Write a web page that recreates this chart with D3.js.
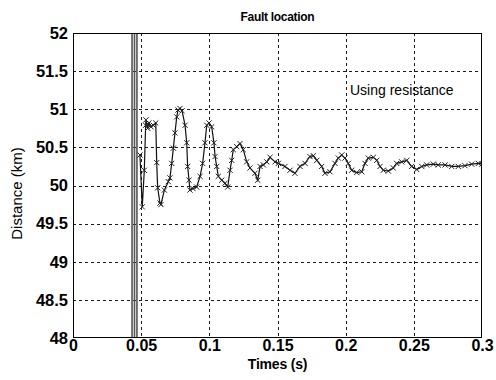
<!DOCTYPE html>
<html>
<head>
<meta charset="utf-8">
<script src="https://cdn.jsdelivr.net/npm/d3@7"></script>
<style>
  html, body { margin: 0; padding: 0; background: #fff; }
  svg { display: block; }
</style>
</head>
<body>
<svg id="chart" width="496" height="380"></svg>
<script>
// ---- data ----
const xTicks = [0, 0.05, 0.1, 0.15, 0.2, 0.25, 0.3];
const xTickLabels = ["0", "0.05", "0.1", "0.15", "0.2", "0.25", "0.3"];
const yTicks = [48, 48.5, 49, 49.5, 50, 50.5, 51, 51.5, 52];
const yTickLabels = ["48", "48.5", "49", "49.5", "50", "50.5", "51", "51.5", "52"];

// transient (off-scale) vertical traces before the estimate settles
const transientTimes = [0.0433, 0.0451, 0.0469];

// estimated fault distance, time (s)
const times = [
  0.0491, 0.0508, 0.0523, 0.0533, 0.0535, 0.0548, 0.0557, 0.0572, 0.0589, 0.0607,
  0.0614, 0.0621, 0.0638, 0.0645, 0.0670, 0.0699, 0.0711, 0.0724, 0.0736, 0.0748,
  0.0761, 0.0770, 0.0785, 0.0800, 0.0822, 0.0834, 0.0841, 0.0851, 0.0858, 0.0880,
  0.0907, 0.0932, 0.0951, 0.0968, 0.0981, 0.0998, 0.1017, 0.1034, 0.1042, 0.1054,
  0.1066, 0.1091, 0.1115, 0.1135, 0.1152, 0.1164, 0.1176, 0.1201, 0.1225, 0.1249,
  0.1274, 0.1298, 0.1335, 0.1355, 0.1372, 0.1396, 0.1421, 0.1445, 0.1482, 0.1506,
  0.1555, 0.1592, 0.1628, 0.1665, 0.1702, 0.1738, 0.1763, 0.1788, 0.1824, 0.1848,
  0.1885, 0.1922, 0.1946, 0.1971, 0.1995, 0.2019, 0.2044, 0.2081, 0.2118, 0.2142,
  0.2166, 0.2203, 0.2228, 0.2252, 0.2276, 0.2313, 0.2349, 0.2374, 0.2411, 0.2448,
  0.2484, 0.2521, 0.2558, 0.2594, 0.2643, 0.2679, 0.2729, 0.2778, 0.2826, 0.2875,
  0.2924, 0.2973, 0.3000
];
// estimated fault distance, km
const distances = [
  50.40, 49.72, 50.20, 50.79, 50.86, 50.75, 50.82, 50.77, 50.79, 50.82,
  50.30, 49.97, 49.77, 49.75, 49.94, 50.05, 50.10, 50.29, 50.49, 50.69,
  50.90, 50.99, 51.01, 50.98, 50.79, 50.56, 50.25, 50.07, 49.94, 49.96,
  49.98, 50.12, 50.29, 50.56, 50.79, 50.82, 50.77, 50.56, 50.38, 50.25,
  50.12, 50.07, 50.03, 49.98, 50.20, 50.33, 50.47, 50.51, 50.55, 50.47,
  50.31, 50.23, 50.16, 50.07, 50.25, 50.27, 50.31, 50.37, 50.31, 50.29,
  50.25, 50.20, 50.16, 50.25, 50.29, 50.38, 50.39, 50.33, 50.25, 50.16,
  50.18, 50.29, 50.36, 50.40, 50.36, 50.29, 50.20, 50.17, 50.18, 50.29,
  50.36, 50.37, 50.33, 50.25, 50.20, 50.19, 50.23, 50.29, 50.31, 50.33,
  50.25, 50.21, 50.25, 50.27, 50.28, 50.27, 50.27, 50.25, 50.25, 50.26,
  50.28, 50.29, 50.28
];

const titleText = "Fault location";
const xLabel = "Times (s)";
const yLabel = "Distance (km)";
const annotation = "Using resistance";

// ---- layout ----
const svg = d3.select("#chart");
const margin = { left: 73, top: 33, right: 14, bottom: 42 };
const W = 496, H = 380;
const x = d3.scaleLinear().domain([0, 0.3]).range([margin.left, W - margin.right]);
const y = d3.scaleLinear().domain([48, 52]).range([H - margin.bottom, margin.top]);
const font = "'Liberation Sans', Arial, Helvetica, sans-serif";

svg.append("rect").attr("width", W).attr("height", H).attr("fill", "#fff");

svg.append("clipPath").attr("id", "clip").append("rect")
  .attr("x", x(0)).attr("y", y(52))
  .attr("width", x(0.3) - x(0)).attr("height", y(48) - y(52));

// grid
const grid = svg.append("g");
grid.selectAll(".vg").data(xTicks.slice(1, -1)).enter().append("line")
  .attr("x1", d => Math.round(x(d)) + 0.5).attr("x2", d => Math.round(x(d)) + 0.5)
  .attr("y1", y(52)).attr("y2", y(48))
  .attr("stroke", "#000").attr("stroke-width", 0.9).attr("stroke-dasharray", "3,3");
grid.selectAll(".hg").data(yTicks.slice(1, -1)).enter().append("line")
  .attr("y1", d => Math.round(y(d)) + 0.5).attr("y2", d => Math.round(y(d)) + 0.5)
  .attr("x1", x(0)).attr("x2", x(0.3))
  .attr("stroke", "#000").attr("stroke-width", 0.9).attr("stroke-dasharray", "3,3");

// axes
const xAxis = d3.axisBottom(x).tickValues(xTicks)
  .tickFormat((d, i) => xTickLabels[i]).tickSize(0).tickPadding(2);
const gx = svg.append("g").attr("transform", `translate(0,${y(48)})`).call(xAxis);
gx.select(".domain").remove();
gx.selectAll("text").attr("font-family", font).attr("font-size", 16)
  .attr("font-weight", "bold").attr("fill", "#000").attr("dy", "0.71em");

const yAxis = d3.axisLeft(y).tickValues(yTicks)
  .tickFormat((d, i) => yTickLabels[i]).tickSize(0).tickPadding(5);
const gy = svg.append("g").attr("transform", `translate(${x(0)},0)`).call(yAxis);
gy.select(".domain").remove();
gy.selectAll("text").attr("font-family", font).attr("font-size", 16.5)
  .attr("font-weight", "bold").attr("fill", "#000");

// data
const plot = svg.append("g").attr("clip-path", "url(#clip)");

plot.selectAll(".tr").data(transientTimes).enter().append("line")
  .attr("x1", d => x(d)).attr("x2", d => x(d))
  .attr("y1", y(52)).attr("y2", y(48))
  .attr("stroke", "#555").attr("stroke-width", 1.6);

const pts = times.map((t, i) => [t, distances[i]]);
plot.append("path").datum(pts)
  .attr("d", d3.line().x(d => x(d[0])).y(d => y(d[1])))
  .attr("fill", "none").attr("stroke", "#111").attr("stroke-width", 1.2);

const s = 2.6;
plot.selectAll(".mk").data(pts).enter().append("path")
  .attr("d", d => {
    const cx = x(d[0]), cy = y(d[1]);
    return `M${cx - s},${cy - s}L${cx + s},${cy + s}M${cx - s},${cy + s}L${cx + s},${cy - s}`;
  })
  .attr("stroke", "#222").attr("stroke-width", 1).attr("fill", "none");

// frame
svg.append("rect")
  .attr("x", x(0) + 0.5).attr("y", y(52) + 0.5)
  .attr("width", x(0.3) - x(0) - 1).attr("height", y(48) - y(52) - 1)
  .attr("fill", "none").attr("stroke", "#000").attr("stroke-width", 1);

// texts
svg.append("text").attr("x", (x(0) + x(0.3)) / 2).attr("y", 21)
  .attr("text-anchor", "middle").attr("font-family", font)
  .attr("font-size", 12).attr("font-weight", "bold").attr("letter-spacing", -0.3)
  .text(titleText);

svg.append("text").attr("x", (x(0) + x(0.3)) / 2).attr("y", 369)
  .attr("text-anchor", "middle").attr("font-family", font)
  .attr("font-size", 14).attr("font-weight", "bold").attr("letter-spacing", -0.2)
  .text(xLabel);

svg.append("text").attr("transform", `translate(22,${(y(48) + y(52)) / 2 + 8}) rotate(-90)`)
  .attr("text-anchor", "middle").attr("font-family", font)
  .attr("font-size", 15)
  .text(yLabel);

svg.append("text").attr("x", 350).attr("y", 95)
  .attr("font-family", font).attr("font-size", 14)
  .text(annotation);
</script>
</body>
</html>
